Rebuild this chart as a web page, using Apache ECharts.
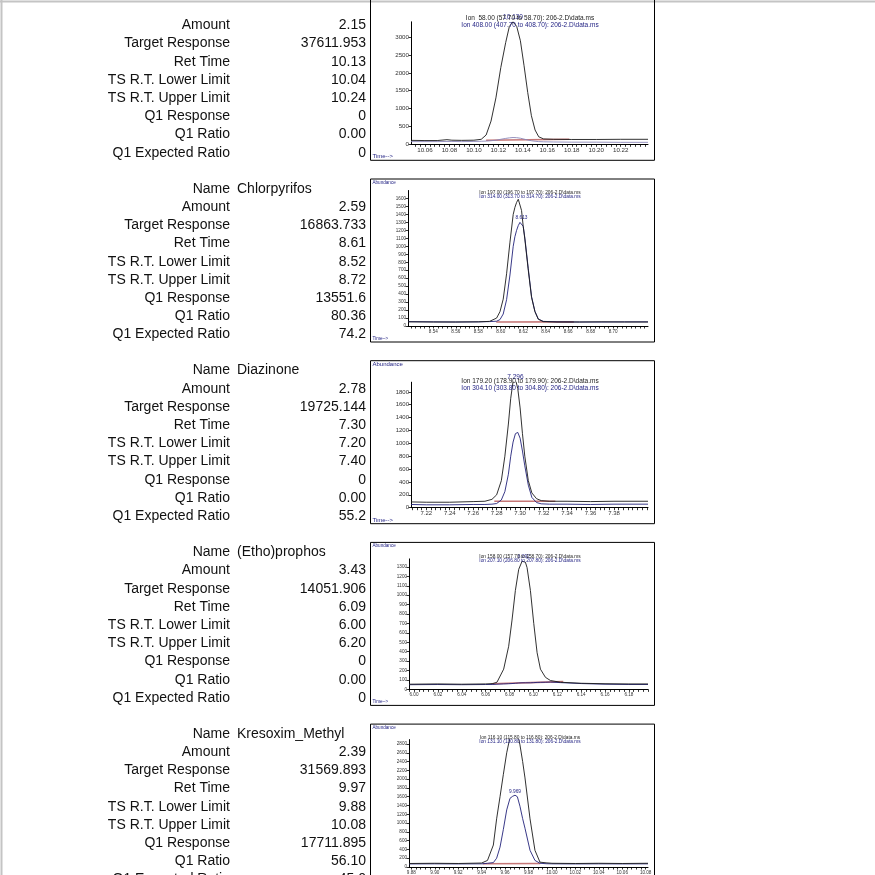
<!DOCTYPE html>
<html><head><meta charset="utf-8">
<script src="https://cdn.jsdelivr.net/npm/echarts@6/dist/echarts.min.js"></script>
<style>html,body{margin:0;padding:0;background:#fff}#c{width:875px;height:875px}</style>
</head><body><div id="c"></div>
<script>
// ---------- table data ----------
const ROW_LABELS = ['Name','Amount','Target Response','Ret Time','TS R.T. Lower Limit','TS R.T. Upper Limit','Q1 Response','Q1 Ratio','Q1 Expected Ratio'];
const NAMES      = [null, 'Chlorpyrifos', 'Diazinone', '(Etho)prophos', 'Kresoxim_Methyl'];
const VAL_AMOUNT = ['2.15','2.59','2.78','3.43','2.39'];
const VAL_TARGET = ['37611.953','16863.733','19725.144','14051.906','31569.893'];
const VAL_RT     = ['10.13','8.61','7.30','6.09','9.97'];
const VAL_LOWER  = ['10.04','8.52','7.20','6.00','9.88'];
const VAL_UPPER  = ['10.24','8.72','7.40','6.20','10.08'];
const VAL_Q1RESP = ['0','13551.6','0','0','17711.895'];
const VAL_Q1RAT  = ['0.00','80.36','0.00','0.00','56.10'];
const VAL_Q1EXP  = ['0','74.2','55.2','0','45.0'];

// ---------- ion headers ----------
const ION_A = ['Ion  58.00 (57.70 to 58.70): 206-2.D\\data.ms','Ion 197.00 (196.70 to 197.70): 206-2.D\\data.ms','Ion 179.20 (178.90 to 179.90): 206-2.D\\data.ms','Ion 158.00 (157.70 to 158.70): 206-2.D\\data.ms','Ion 116.10 (115.80 to 116.80): 206-2.D\\data.ms'];
const ION_B = ['Ion 408.00 (407.70 to 408.70): 206-2.D\\data.ms','Ion 314.00 (313.70 to 314.70): 206-2.D\\data.ms','Ion 304.10 (303.80 to 304.80): 206-2.D\\data.ms','Ion 207.10 (206.80 to 207.80): 206-2.D\\data.ms','Ion 131.10 (130.80 to 131.80): 206-2.D\\data.ms'];
const PEAK_LABEL = ['10.130','8.613','7.296','6.092','9.969'];

// ---------- traces ----------
const p1Time = [10.0486,10.06,10.07,10.078,10.082,10.09,10.1,10.106,10.11,10.114,10.118,10.122,10.126,10.129,10.132,10.135,10.138,10.141,10.144,10.147,10.15,10.153,10.157,10.165,10.18,10.2,10.22,10.2423];
const p1IonA = [110,105,105,130,115,110,115,140,260,650,1300,2150,2850,3300,3430,3300,2900,2200,1450,800,400,210,150,140,135,135,140,140];
const p1IonB = [75,75,75,80,80,75,80,85,90,100,115,140,165,180,190,185,170,145,120,100,85,75,70,65,60,60,55,55];
const p1BaseTime = [10.110,10.178];
const p1BaseVal  = [115,140];
const p1XLabels = [10.06,10.08,10.10,10.12,10.14,10.16,10.18,10.20,10.22];
const p1YLabels = [0,500,1000,1500,2000,2500,3000];

const p2Time = [8.5175,8.54,8.56,8.58,8.590,8.5963,8.5993,8.6022,8.6052,8.6082,8.6111,8.6126,8.6141,8.6156,8.6171,8.6185,8.6200,8.6215,8.6245,8.6274,8.6304,8.6334,8.6378,8.65,8.67,8.69,8.71,8.731];
const p2IonA = [52,50,50,52,58,99,179,337,655,1052,1400,1488,1550,1590,1600,1450,1250,1080,700,360,180,85,55,50,50,52,50,50];
const p2IonB = [55,52,50,52,55,60,80,150,330,640,1000,1120,1200,1260,1300,1321,1250,1100,720,370,185,88,58,52,50,50,52,52];
const p2BaseTime = [8.596,8.665];
const p2BaseVal  = [50,52];
const p2XLabels = [8.54,8.56,8.58,8.60,8.62,8.64,8.66,8.68,8.70];
const p2YLabels = [0,100,200,300,400,500,600,700,800,900,1000,1100,1200,1300,1400,1500,1600];

const p3Time = [7.207,7.22,7.24,7.26,7.27,7.276,7.280,7.284,7.287,7.290,7.292,7.294,7.296,7.298,7.300,7.302,7.304,7.307,7.310,7.314,7.318,7.325,7.34,7.36,7.38,7.409];
const p3IonA = [90,85,85,95,100,130,200,420,800,1300,1700,1960,2000,1850,1550,1150,800,420,230,140,110,100,100,95,100,100];
const p3IonB = [50,45,45,50,50,55,65,120,250,520,800,1020,1150,1170,1080,880,650,350,160,80,60,55,55,50,55,55];
const p3BaseTime = [7.278,7.330];
const p3BaseVal  = [100,100];
const p3XLabels = [7.22,7.24,7.26,7.28,7.30,7.32,7.34,7.36,7.38];
const p3YLabels = [0,200,400,600,800,1000,1200,1400,1600,1800];

const p4Time = [5.9958,6.02,6.04,6.06,6.066,6.0695,6.0751,6.0793,6.0821,6.0849,6.0877,6.0905,6.0919,6.0933,6.0947,6.0975,6.1003,6.1031,6.1059,6.1101,6.1143,6.1227,6.14,6.16,6.18,6.196];
const p4IonA = [55,58,55,58,62,76,215,458,736,1049,1274,1360,1368,1350,1292,1049,700,389,215,128,94,76,65,60,58,58];
const p4IonB = [50,52,50,52,52,55,58,60,62,65,68,70,70,70,70,70,72,74,75,76,78,72,62,55,52,52];
const p4BaseTime = [6.065,6.125];
const p4BaseVal  = [60,82];
const p4XLabels = [6.00,6.02,6.04,6.06,6.08,6.10,6.12,6.14,6.16,6.18];
const p4YLabels = [0,100,200,300,400,500,600,700,800,900,1000,1100,1200,1300];

const p5Time = [9.878,9.90,9.92,9.94,9.945,9.950,9.9528,9.9557,9.9585,9.9614,9.9642,9.9665,9.9685,9.9705,9.9727,9.9750,9.9770,9.9813,9.9855,9.9898,9.995,10.00,10.02,10.04,10.06,10.082];
const p5IonA = [80,85,80,90,150,500,1097,1600,2100,2600,2950,3100,3150,3050,2781,2400,2028,1097,380,110,95,85,80,85,80,85];
const p5IonB = [70,72,70,72,85,100,200,452,850,1300,1563,1610,1634,1600,1383,1100,882,380,150,85,75,72,70,72,70,72];
const p5BaseTime = [9.941,9.990];
const p5BaseVal  = [75,80];
const p5XLabels = [9.88,9.90,9.92,9.94,9.96,9.98,10.00,10.02,10.04,10.06,10.08];
const p5YLabels = [0,200,400,600,800,1000,1200,1400,1600,1800,2000,2200,2400,2600,2800];

// ---------- layout ----------
const PANEL_STEP = 181.7, PANEL_T0 = -3.2;
const BOX_L = 370, BOX_W = 284, BOX_H = 163;
const PLOT_RIGHT = 648;

const panels = [
  {t:p1Time,a:p1IonA,b:p1IonB,bt:p1BaseTime,bv:p1BaseVal,xmin:10.0486,xmax:10.2423,xl:p1XLabels,ymax:3430,yl:p1YLabels,left:411,topOff:25,axOff:147.5,fs:6.2,hfs:6.5,colB:'#8a86b8',peakOn:'a'},
  {t:p2Time,a:p2IonA,b:p2IonB,bt:p2BaseTime,bv:p2BaseVal,xmin:8.5175,xmax:8.731,xl:p2XLabels,ymax:1700,yl:p2YLabels,left:408,topOff:12,axOff:147.5,fs:4.6,hfs:4.8,colB:'#23237a',peakOn:'b'},
  {t:p3Time,a:p3IonA,b:p3IonB,bt:p3BaseTime,bv:p3BaseVal,xmin:7.207,xmax:7.409,xl:p3XLabels,ymax:1950,yl:p3YLabels,left:411,topOff:22,axOff:147.5,fs:6,hfs:6.5,colB:'#23237a',peakOn:'a'},
  {t:p4Time,a:p4IonA,b:p4IonB,bt:p4BaseTime,bv:p4BaseVal,xmin:5.9958,xmax:6.196,xl:p4XLabels,ymax:1385,yl:p4YLabels,left:409,topOff:17,axOff:147.5,fs:4.6,hfs:4.8,colB:'#23237a',peakOn:'a'},
  {t:p5Time,a:p5IonA,b:p5IonB,bt:p5BaseTime,bv:p5BaseVal,xmin:9.878,xmax:10.082,xl:p5XLabels,ymax:2900,yl:p5YLabels,left:409,topOff:16,axOff:152,fs:4.6,hfs:4.8,colB:'#23237a',peakOn:'b'}
];

function zip(x, y){ return x.map((v,i)=>[v,y[i]]); }
function minorTicks(min, max, step){
  const out=[]; let k=Math.ceil(min/step-1e-9);
  for(;k*step<=max+1e-9;k++) out.push(+(k*step).toFixed(4));
  return out;
}

const grids=[], xAxes=[], yAxes=[], series=[], graphics=[];
const FONT = '"Liberation Sans", Arial, sans-serif';

// page frame
graphics.push({type:'line',shape:{x1:1.5,y1:0,x2:1.5,y2:875},style:{stroke:'#c4c4c4',lineWidth:2},silent:true});
graphics.push({type:'line',shape:{x1:0,y1:1.5,x2:875,y2:1.5},style:{stroke:'#c4c4c4',lineWidth:2},silent:true});

panels.forEach((p,i)=>{
  const T = PANEL_T0 + PANEL_STEP*i;
  const top = T + p.topOff, bottom = T + p.axOff;
  grids.push({left:p.left, top:top, width:PLOT_RIGHT-p.left, height:bottom-top, containLabel:false});
  xAxes.push({type:'value',gridIndex:i,min:p.xmin,max:p.xmax,
    axisLine:{show:true,onZero:false,lineStyle:{color:'#000',width:1}},
    axisTick:{show:true,customValues:minorTicks(p.xmin,p.xmax,0.004),length:2.5,lineStyle:{color:'#000',width:0.8}},
    axisLabel:{show:true,customValues:p.xl,fontSize:p.fs,color:'#333',margin:3,fontFamily:FONT,formatter:v=>Number(v).toFixed(2)},
    splitLine:{show:false}});
  yAxes.push({type:'value',gridIndex:i,min:0,max:p.ymax,
    axisLine:{show:true,lineStyle:{color:'#000',width:1}},
    axisTick:{show:true,customValues:p.yl,length:2.5,lineStyle:{color:'#000',width:0.8}},
    axisLabel:{show:true,customValues:p.yl,fontSize:p.fs,color:'#333',margin:2,fontFamily:FONT,formatter:v=>String(Math.round(v))},
    splitLine:{show:false}});
  const lbl = {symbol:'circle',symbolSize:0,label:{show:true,position:'top',distance:1,fontSize:p.hfs,color:'#1d1d80',fontFamily:FONT,formatter:PEAK_LABEL[i]}};
  const peakSeries = p.peakOn==='a' ? p.a : p.b;
  let pk=0; peakSeries.forEach((v,k)=>{ if(v>peakSeries[pk]) pk=k; });
  const mp = {silent:true, data:[Object.assign({coord:[p.t[pk], Math.min(peakSeries[pk], p.ymax)]}, lbl)]};
  series.push({type:'line',xAxisIndex:i,yAxisIndex:i,data:zip(p.bt,p.bv),showSymbol:false,silent:true,
    lineStyle:{color:'#b04848',width:1.6,opacity:0.75},z:1});
  series.push({type:'line',xAxisIndex:i,yAxisIndex:i,data:zip(p.t,p.b),showSymbol:false,silent:true,
    lineStyle:{color:p.colB,width:0.9},z:2, markPoint: p.peakOn==='b'?mp:undefined});
  series.push({type:'line',xAxisIndex:i,yAxisIndex:i,data:zip(p.t,p.a),showSymbol:false,silent:true,
    lineStyle:{color:'#1a1a1a',width:0.9},z:3, markPoint: p.peakOn==='a'?mp:undefined});

  // box
  graphics.push({type:'rect',shape:{x:BOX_L+0.5,y:T+0.5,width:BOX_W,height:BOX_H},style:{fill:'none',stroke:'#000',lineWidth:1},silent:true,z:10});
  // ion headers
  const hcx = 530, hy = i===0||i===2 ? T+21 : T+14.5, hstep = i===0||i===2 ? 7.2 : 3.8;
  graphics.push({type:'text',x:hcx,y:hy,style:{text:ION_A[i],fill:'#222',font:p.hfs+'px '+FONT,textAlign:'center',textVerticalAlign:'middle'},silent:true,z:11});
  graphics.push({type:'text',x:hcx,y:hy+hstep,style:{text:ION_B[i],fill:'#1d1d80',font:p.hfs+'px '+FONT,textAlign:'center',textVerticalAlign:'middle'},silent:true,z:11});
  // Abundance / Time labels
  if(i>0) graphics.push({type:'text',x:BOX_L+2.5,y:T+4,style:{text:'Abundance',fill:'#1d1d80',font:(i===2?6:4.6)+'px '+FONT,textAlign:'left',textVerticalAlign:'middle'},silent:true,z:11});
  graphics.push({type:'text',x:BOX_L+2.5,y:T+BOX_H-3,style:{text:'Time-->',fill:'#1d1d80',font:(i===0||i===2?6:4.6)+'px '+FONT,textAlign:'left',textVerticalAlign:'middle'},silent:true,z:11});

  // table
  const vals = [NAMES[i],VAL_AMOUNT[i],VAL_TARGET[i],VAL_RT[i],VAL_LOWER[i],VAL_UPPER[i],VAL_Q1RESP[i],VAL_Q1RAT[i],VAL_Q1EXP[i]];
  const rowY0 = 7.2 + PANEL_STEP*i;
  ROW_LABELS.forEach((lab,r)=>{
    if(r===0 && NAMES[i]===null) return;
    const y = rowY0 + r*18.2;
    graphics.push({type:'text',x:230,y:y,style:{text:lab,fill:'#111',font:'14px '+FONT,textAlign:'right',textVerticalAlign:'middle'},silent:true});
    if(r===0){
      graphics.push({type:'text',x:237,y:y,style:{text:vals[r],fill:'#111',font:'14px '+FONT,textAlign:'left',textVerticalAlign:'middle'},silent:true});
    } else {
      graphics.push({type:'text',x:366,y:y,style:{text:vals[r],fill:'#111',font:'14px '+FONT,textAlign:'right',textVerticalAlign:'middle'},silent:true});
    }
  });
});

const chart = echarts.init(document.getElementById('c'), null, {renderer:'canvas'});
chart.setOption({
  animation:false,
  backgroundColor:'#fff',
  grid:grids, xAxis:xAxes, yAxis:yAxes, series:series,
  graphic:{elements:graphics}
});
</script></body></html>
